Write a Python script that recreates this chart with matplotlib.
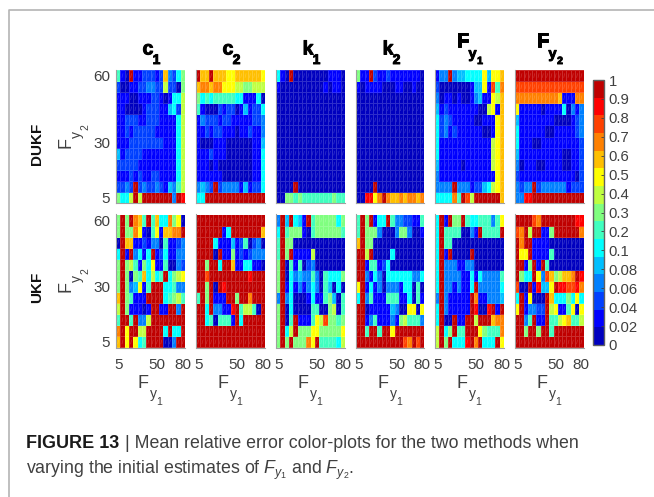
import numpy as np
import matplotlib
matplotlib.use('Agg')
import matplotlib.pyplot as plt
import matplotlib.patheffects as pe
from matplotlib.collections import LineCollection
from matplotlib.colors import ListedColormap, BoundaryNorm
from matplotlib.lines import Line2D

plt.rcParams['font.family'] = ['Liberation Sans', 'DejaVu Sans']
plt.rcParams['mathtext.fontset'] = 'custom'
plt.rcParams['mathtext.rm'] = 'Liberation Sans'
plt.rcParams['mathtext.it'] = 'Liberation Sans:italic'

W, H = 654, 497

fy1 = [5, 10, 15, 20, 25, 30, 35, 40, 45, 50, 55, 60, 65, 70, 75, 80]
fy2 = [60, 55, 50, 45, 40, 35, 30, 25, 20, 15, 10, 5]
params = [('c', '1'), ('c', '2'), ('k', '1'), ('k', '2'), ('F', 'y1'), ('F', 'y2')]
bar_labels = ['0', '0.02', '0.04', '0.06', '0.08', '0.1', '0.2', '0.3', '0.4', '0.5', '0.6', '0.7', '0.8', '0.9', '1']

# colour band of every cell (0 = darkest blue ... e = darkest red), top row first
dukf_c1 = ['6 1 0 e 1 1 2 2 2 1 2 a 3 2 5 7', '2 0 0 1 1 2 2 3 3 2 2 8 2 2 0 7', '1 1 1 0 0 1 1 1 2 2 1 0 1 5 5 8',
           '1 1 0 0 0 0 1 2 2 2 1 1 4 5 2 8', '1 1 2 2 2 1 1 2 2 2 1 1 1 1 5 8', '1 1 2 1 2 2 2 2 2 1 1 1 1 1 5 8',
           '1 1 1 2 2 2 2 2 2 2 2 1 1 1 5 8', '4 1 2 2 2 2 1 1 1 1 1 1 1 1 5 8', '2 2 2 2 2 1 1 1 1 1 1 1 1 1 5 8',
           '1 1 1 2 1 2 1 1 2 2 1 1 1 1 5 8', '2 2 3 2 e 2 3 2 2 3 2 1 4 3 6 8', '7 5 5 8 e 8 e e e e e e e 3 e d']
dukf_c2 = ['e a a e a a a 9 9 a a a a a a 9', 'a b b a b b 9 9 9 8 8 7 7 8 8 8', '7 5 6 5 6 6 6 6 6 5 5 1 1 1 5 0',
           '6 1 0 0 0 2 1 2 2 0 1 4 1 2 2 5', '1 3 2 2 2 1 2 2 1 1 1 1 1 2 2 3', '1 1 2 1 2 2 1 1 1 0 1 1 2 1 1 3',
           '1 0 0 0 1 1 1 0 0 0 0 0 0 1 1 4', '1 1 1 2 1 1 1 0 0 0 0 0 0 1 1 5', '1 1 1 0 1 0 0 0 0 0 0 0 0 1 1 5',
           '1 1 1 1 1 1 0 0 0 0 0 0 0 1 1 5', '3 4 3 2 e 2 3 3 3 3 1 4 1 2 2 5', '5 5 e e e e e e e e e e e e e e']
dukf_k1 = ['5 1 0 e 0 0 0 0 0 0 0 0 1 1 1 0', '1 0 0 0 0 0 0 0 0 0 0 1 0 1 1 0', '0 0 0 0 0 0 0 0 0 0 0 0 0 0 0 0',
           '0 0 0 0 0 0 0 0 0 0 0 0 0 0 0 0', '0 0 0 0 0 0 0 0 0 0 0 0 0 0 0 0', '0 0 0 0 0 0 0 0 0 0 0 0 0 0 0 0',
           '0 0 0 0 0 0 0 0 0 0 0 0 0 0 0 0', '0 0 0 0 0 0 0 0 0 0 0 0 0 0 0 0', '0 0 0 0 0 0 0 0 0 0 0 0 0 0 0 0',
           '0 0 0 0 0 0 0 0 0 0 0 0 0 0 0 0', '0 0 0 0 e 0 0 0 0 0 0 0 0 0 0 0', '0 0 7 7 6 7 6 6 6 6 6 6 6 7 6 6']
dukf_k2 = ['7 1 1 e 2 1 1 2 1 1 1 1 1 1 1 0', '1 0 1 1 1 1 0 0 0 1 1 0 0 1 0 0', '0 0 0 0 0 0 0 0 0 0 0 0 0 0 0 0',
           '0 0 0 0 0 0 0 0 0 0 0 0 0 0 0 0', '0 0 0 0 0 0 0 0 0 0 0 0 0 0 0 0', '0 0 0 0 0 0 0 0 0 0 0 0 0 0 0 0',
           '0 0 0 0 0 0 0 0 0 0 0 0 0 0 0 0', '0 0 0 0 0 0 0 0 0 0 0 0 0 0 0 0', '0 0 0 0 0 0 0 0 0 0 0 0 0 0 0 0',
           '0 0 0 0 0 0 0 0 0 0 0 0 0 0 0 0', '0 0 0 0 e 0 0 0 0 0 0 0 0 0 0 0', '0 0 d d 9 b e b a a b a b b a b']
dukf_fy1 = ['1 3 3 e 3 4 4 5 5 5 5 9 4 9 9 a', '2 0 0 0 0 0 0 0 1 4 4 9 1 c 6 b', '3 0 1 1 0 1 0 0 1 3 4 1 1 9 8 a',
            '4 1 2 1 1 1 1 1 1 1 0 0 8 9 1 a', '5 2 3 2 1 1 1 1 1 0 0 1 1 1 9 a', '5 2 3 1 2 1 1 1 1 1 1 0 0 1 9 a',
            '5 1 1 1 1 1 1 1 1 1 1 1 1 8 9 a', '5 1 1 1 1 1 1 1 1 1 1 1 1 8 9 a', '4 1 1 1 1 1 0 1 1 1 1 1 1 8 9 a',
            '3 1 1 1 1 1 1 1 1 1 1 1 1 1 9 a', '3 3 3 3 e 3 3 3 1 2 2 4 5 8 9 a', '5 5 5 5 b 6 e c 8 e e e e e e a']
dukf_fy2 = ['e e e e e e e e e e e e e e e e', 'c c c c c c c c c c c c c c c c', 'b b b b b b b b b b a 1 1 1 b b',
            '9 1 1 1 1 1 0 1 1 1 1 5 0 3 1 3', '4 1 1 1 1 1 1 1 1 0 0 0 0 1 2 3', '5 1 1 1 1 1 1 0 0 1 1 1 1 1 2 3',
            '5 1 1 1 0 0 1 1 1 1 1 1 1 1 1 2', '4 1 1 1 1 1 1 1 1 1 1 0 0 1 1 2', '3 0 1 1 1 0 0 1 1 1 1 0 0 1 1 2',
            '2 1 1 1 1 1 1 1 1 1 1 1 1 1 0 2', '3 2 3 3 e 2 3 3 3 3 3 3 1 2 2 2', '3 3 d d e e e e e e e e e e e e']
ukf_c1 = ['7 e 7 e b a 6 e 6 a 5 5 b 7 9 0', '7 e 7 7 b 9 1 0 6 9 1 a a b b e', '0 e a a 1 1 2 1 3 3 0 6 1 1 2 3',
          '5 e 1 e 3 5 1 5 e 1 2 5 1 1 3 3', '7 e 7 8 6 1 7 5 9 1 1 6 0 0 3 2', '7 e 7 0 7 6 a 5 8 5 6 e 5 7 8 9',
          '7 e 7 3 4 9 1 6 e e e 5 5 6 3 3', 'a e 7 6 1 1 1 e e e e 5 6 7 8 6', '8 e 7 1 1 1 0 1 e e 1 1 e e 3 e',
          '6 e e 6 e 3 3 8 e e e e e e e e', 'b e 9 e e 8 8 e e e e 5 e 5 5 e', 'a e 9 e 9 5 6 e e e e 0 0 3 e e']
ukf_c2 = ['e e e e e e e e e e e e e e e e', 'e e e e e e 1 5 e e e e e e e a', 'e e e e 5 1 1 1 4 1 2 6 0 2 3 0',
          'e e e e 0 e 1 1 7 1 2 1 2 3 3 3', 'e e 7 e e 5 e e a 1 1 5 5 1 1 0', 'e e c e e e e e e e e e d e e e',
          'e e 7 e 0 e d e e e e e e e e e', '6 e 7 e 1 1 1 e e 7 e e b e e e', 'e e 5 e 3 3 1 1 d e 6 8 8 6 0 e',
          'e e 5 6 0 6 6 6 1 e 5 e e e e e', 'e e e e e e e e e e e e e e e e', 'e e e e e e e e e e e e e e e e']
ukf_k1 = ['3 e 4 e 5 4 1 e 6 7 7 7 7 7 5 7', '5 e 6 7 7 7 1 0 6 7 7 7 7 7 7 6', '6 e 7 7 0 0 0 0 0 0 0 0 0 0 0 0',
          '6 e 7 e 1 1 1 1 8 0 0 0 0 0 0 0', '7 e 0 6 1 6 0 2 3 0 0 0 0 0 0 0', '7 e 0 5 3 4 3 3 6 3 0 6 5 5 5 7',
          '7 e 1 5 1 3 1 3 5 3 0 6 4 0 5 0', '3 e 3 5 0 0 0 1 5 1 1 6 7 4 0 6', '7 e 0 5 0 0 0 0 6 6 0 0 7 8 0 6',
          '7 e 0 6 e 1 1 1 6 9 8 c 7 7 6 7', '7 e 5 8 e 7 7 7 9 9 7 7 7 7 7 9', '7 e 7 e 7 7 7 b 9 e 6 6 6 6 5 8']
ukf_k2 = ['6 e 7 e 1 5 5 e 6 3 3 2 2 1 1 6', '6 e 7 7 7 3 0 0 0 3 7 7 3 0 0 1', 'a e 7 7 0 0 0 0 0 0 0 0 0 0 0 0',
          'e e 8 e 0 0 0 0 5 0 0 0 0 0 0 0', 'e e 1 6 6 1 2 5 0 0 0 0 0 0 0 0', 'e e 3 1 5 3 0 5 5 5 5 5 5 3 3 5',
          '9 e 1 5 1 3 0 3 3 3 1 5 5 0 6 0', '5 e 3 6 1 1 1 6 6 6 1 1 5 0 6 1', 'e e 0 1 1 1 1 1 4 3 0 0 9 9 0 9',
          'e e 1 3 6 1 1 1 3 1 7 8 6 6 6 3', 'e e 6 e e 6 e e 9 e e e e e e e', 'e e e e e e e e e e e c b e c e']
ukf_fy1 = ['5 e 1 e 7 7 e 6 5 5 6 6 6 3 6 9', '5 e 6 6 6 6 0 0 3 1 e 6 6 6 6 e', '5 e 6 6 0 0 0 0 0 0 0 0 0 0 0 0',
           '5 e 1 e 0 0 0 0 e 0 0 0 0 0 0 0', '5 e 3 3 3 1 1 3 3 0 0 0 0 0 0 0', '5 e 3 3 3 3 1 1 5 1 5 3 3 3 3 6',
           '5 e 3 3 1 3 1 1 5 e 3 3 3 3 3 5', '3 e 3 1 1 1 1 1 e b 1 1 3 3 3 4', '5 e 3 1 1 1 1 1 e d 0 0 d e 1 e',
           '5 e 0 0 e 1 1 e e 8 e e e a b b', '8 e 5 7 e 6 6 e e e 9 7 6 6 6 b', '8 e 7 e 5 5 5 d e b e 5 5 5 e 9']
ukf_fy2 = ['e e e e c b e e e e e e e e d d', 'c b e 8 e e 1 1 7 e e e e e e b', 'e b e e 1 1 1 1 0 0 0 0 0 0 0 0',
           'e 9 9 e 1 1 1 1 6 0 0 0 0 0 0 0', 'e e 1 7 e 1 e 6 0 0 0 0 0 0 0 0', 'e 7 5 5 e 9 3 c a 7 8 a a b e d',
           'c 0 0 e 1 d 4 4 9 e d d c c d b', '5 e 1 9 0 0 0 e a 5 5 5 7 5 9 5', '9 e 1 3 3 2 2 e 8 9 1 1 6 9 0 9',
           'e e 3 6 e 1 1 e 6 6 8 9 a 6 6 8', 'e e 7 e e 7 e e 6 e e e e e e e', 'e e e e e e e e e e e e e e e e']

dukf = [dukf_c1, dukf_c2, dukf_k1, dukf_k2, dukf_fy1, dukf_fy2]
ukf = [ukf_c1, ukf_c2, ukf_k1, ukf_k2, ukf_fy1, ukf_fy2]

band_colors = ['#0000bf', '#0000ff', '#0040ff', '#0080ff', '#00bfff', '#00ffff', '#40ffbf', '#80ff80',
               '#bfff40', '#ffff00', '#ffbf00', '#ff8000', '#ff4000', '#ff0000', '#bf0000']
cmap = ListedColormap(band_colors)
norm = BoundaryNorm(np.arange(16), 15)
gray = '#a0a0a0'
txt = '#404040'


def to_grid(rows):
    return np.array([[int(c, 16) + 0.5 for c in r.split()] for r in rows])


def px_axes(x0, y0, x1, y1):
    return fig.add_axes([x0 / W, 1 - y1 / H, (x1 - x0) / W, (y1 - y0) / H])


def px_text(x, y, s, **kw):
    kw.setdefault('ha', 'center')
    kw.setdefault('va', 'center')
    return fig.text(x / W, 1 - y / H, s, **kw)


def heavy(x, y, s, size):
    t = px_text(x, y, s, fontsize=size, fontweight='bold', color='black')
    t.set_path_effects([pe.withStroke(linewidth=0.7, foreground='black')])


fig = plt.figure(figsize=(W / 100, H / 100), dpi=100)

# frame of the figure box
fig.add_artist(Line2D([8.5 / W, 8.5 / W, 1], [0, 1 - 10 / H, 1 - 10 / H], color='#b4b4b4', lw=1.2))

lefts = [116, 196, 276, 356, 435, 515]
rights = [185, 265, 345, 424.5, 504, 583.5]
tops = [70, 214.5]
bottoms = [203, 347.5]
x_edges = np.arange(2.5, 83, 5)
y_edges = np.arange(2.5, 63, 5)

# the small pale slash that sits in every cell of the original
xc, yc = np.meshgrid(fy1, fy2)
slashes = [[(x - 0.6, y - 1.0), (x + 0.6, y + 1.0)] for x, y in zip(xc.ravel(), yc.ravel())]

for r, panels in enumerate([dukf, ukf]):
    for c, rows in enumerate(panels):
        ax = px_axes(lefts[c], tops[r], rights[c], bottoms[r])
        ax.pcolormesh(x_edges, y_edges, to_grid(rows)[::-1], cmap=cmap, norm=norm,
                      edgecolors=(1, 1, 1, 0.18), linewidth=0.4)
        ax.add_collection(LineCollection(slashes, colors=[(1, 1, 1, 0.2)], linewidths=0.5))
        ax.set_xticks([5, 50, 80] if r == 1 else [])
        ax.set_yticks([5, 30, 60] if c == 0 else [])
        ax.tick_params(length=0, labelsize=11, colors=txt)
        ax.tick_params(axis='x', pad=7.5)
        ax.tick_params(axis='y', pad=4.3)
        for s in ['top', 'right']:
            ax.spines[s].set_visible(False)
        for s in ['left', 'bottom']:
            ax.spines[s].set_color(gray)
            ax.spines[s].set_linewidth(0.8)

        base, sub = params[c]
        if r == 0:
            if base == 'F':
                heavy(lefts[c] + 27.5, 42, 'F', 14)
                heavy(lefts[c] + 37.5, 54, 'y', 10.5)
                heavy(lefts[c] + 45, 61, sub[1], 7.5)
            else:
                heavy(lefts[c] + 32, 50, base, 14)
                heavy(lefts[c] + 40.5, 60, sub, 10)
        if r == 1:
            px_text(lefts[c] + 27, 383.5, 'F', fontsize=13, color=txt)
            px_text(lefts[c] + 37, 394, 'y', fontsize=10, color=txt)
            px_text(lefts[c] + 43, 402, '1', fontsize=7.5, color=txt)
        if c == 0:
            dy = tops[r] - tops[0]
            px_text(65.5, 142.5 + dy, 'F', fontsize=13, color=txt, rotation=90)
            px_text(77, 134 + dy, 'y', fontsize=10, color=txt, rotation=90)
            px_text(85.5, 127 + dy, '2', fontsize=7.5, color=txt, rotation=90)

px_text(37, 144, 'DUKF', rotation=90, fontsize=11, fontweight='bold', color='#111111')
px_text(37, 287, 'UKF', rotation=90, fontsize=11, fontweight='bold', color='#111111')

cax = px_axes(593, 80, 604, 345)
sm = plt.cm.ScalarMappable(cmap=cmap, norm=norm)
cb = fig.colorbar(sm, cax=cax, spacing='proportional', drawedges=False)
cb.set_ticks(np.linspace(0, 15, 15), labels=bar_labels)
cb.ax.tick_params(length=2, width=0.6, labelsize=10.7, colors=txt, pad=3.5, direction='in')
cb.minorticks_off()
cb.outline.set_edgecolor('#606060')
cb.outline.set_linewidth(1.0)

px_text(25.5, 444, 'FIGURE 13', fontsize=13, fontweight='bold', color='#1a1a1a', ha='left')
px_text(125, 444, '| Mean relative error color-plots for the two methods when', fontsize=12.8, color=txt, ha='left')
px_text(25.5, 470, 'varying the initial estimates of $F_{y_1}$ and $F_{y_2}$.', fontsize=12.8, color=txt, ha='left')

fig.savefig('out.png', dpi=100)
